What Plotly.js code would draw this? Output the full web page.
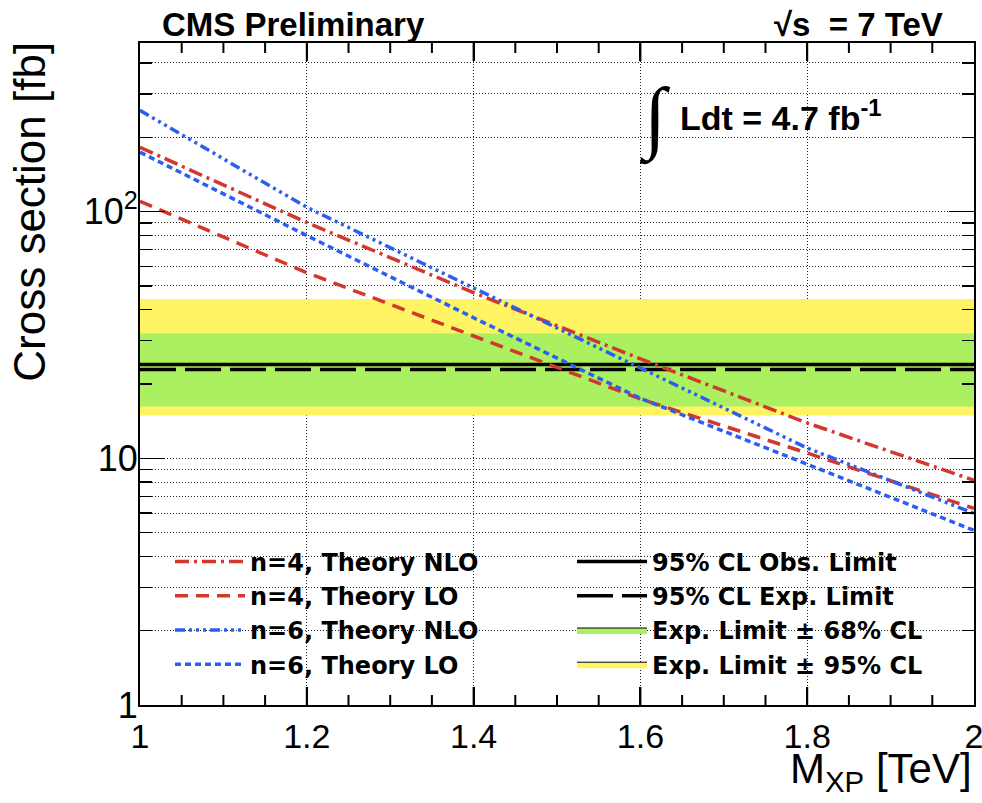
<!DOCTYPE html>
<html>
<head>
<meta charset="utf-8">
<script src="https://cdn.plot.ly/plotly-3.0.1.min.js"></script>
<style>html,body{margin:0;padding:0;background:#fff;}#chart{width:982px;height:803px;}</style>
</head>
<body>
<div id="chart"></div>
<script>
// ---- data ----
const massTeV = [1.0, 1.2, 1.4, 1.6, 1.8, 2.0];
const n4NLO = [182, 90.2, 46.9, 25.3, 13.9, 8.14];
const n4LO  = [110, 56.5, 31.3, 17.4, 10.5, 6.26];
const n6NLO = [257, 104, 49.0, 23.2, 11.0, 5.98];
const n6LO  = [174, 79.9, 37.1, 17.5, 9.46, 5.10];
const limitMass = [1.0, 2.0];
const obsLimit = 24.0;
const expLimit = 22.9;
const band68 = [16.2, 32.0];   // [low, high]
const band95 = [14.9, 44.2];   // [low, high]
const xTickVals = [1, 1.2, 1.4, 1.6, 1.8, 2];
const xTickText = ["1", "1.2", "1.4", "1.6", "1.8", "2"];
const xMinorVals = [1.05,1.1,1.15,1.25,1.3,1.35,1.45,1.5,1.55,1.65,1.7,1.75,1.85,1.9,1.95];
const yTickVals = [1, 10, 100];
const yTickText = ["1", "10", "10<sup>2</sup>"];
const yMinorVals = [2,3,4,5,6,7,8,9,20,30,40,50,60,70,80,90,200,300,400];

const RED = '#d2382c';
const BLUE = '#2c5ef2';
const GREEN = '#aaf060';
const YELLOW = '#fff564';
const FONT = 'Liberation Sans, Arial, Helvetica, sans-serif';
const PLOT_H = 662;

function bandPoly(b){
  return {
    x: [limitMass[0], limitMass[1], limitMass[1], limitMass[0], limitMass[0]],
    y: [b[0], b[0], b[1], b[1], b[0]]
  };
}
const p95 = bandPoly(band95), p68 = bandPoly(band68);

const traces = [
  {x: p95.x, y: p95.y, type:'scatter', mode:'lines', fill:'toself', fillcolor: YELLOW,
   line:{width:0, color: YELLOW}, showlegend:false, hoverinfo:'skip'},
  {x: p68.x, y: p68.y, type:'scatter', mode:'lines', fill:'toself', fillcolor: GREEN,
   line:{width:0, color: GREEN}, showlegend:false, hoverinfo:'skip'},
  {x: limitMass, y: limitMass.map(()=>obsLimit), type:'scatter', mode:'lines',
   name:'95% CL Obs. Limit', line:{color:'#000', width:3.5}, legend:'legend2', legendrank:1},
  {x: limitMass, y: limitMass.map(()=>expLimit), type:'scatter', mode:'lines',
   name:'95% CL Exp. Limit', line:{color:'#000', width:3.5, dash:'36px,9px'}, legend:'legend2', legendrank:2},
  {x:[null], y:[null], type:'scatter', mode:'lines', fill:'toself', fillcolor: GREEN,
   name:'Exp. Limit ± 68% CL', line:{color:'#000', width:1}, legend:'legend2', legendrank:3},
  {x:[null], y:[null], type:'scatter', mode:'lines', fill:'toself', fillcolor: YELLOW,
   name:'Exp. Limit ± 95% CL', line:{color:'#000', width:1}, legend:'legend2', legendrank:4},
  {x: massTeV, y: n4NLO, type:'scatter', mode:'lines', name:'n=4, Theory NLO',
   line:{color: RED, width:3.5, dash:'14px,5px,3px,5px'}, legend:'legend', legendrank:1},
  {x: massTeV, y: n4LO, type:'scatter', mode:'lines', name:'n=4, Theory LO',
   line:{color: RED, width:3.5, dash:'13px,8px'}, legend:'legend', legendrank:2},
  {x: massTeV, y: n6NLO, type:'scatter', mode:'lines', name:'n=6, Theory NLO',
   line:{color: BLUE, width:3.5, dash:'10px,4px,3px,4px,3px,4px,3px,4px'}, legend:'legend', legendrank:3},
  {x: massTeV, y: n6LO, type:'scatter', mode:'lines', name:'n=6, Theory LO',
   line:{color: BLUE, width:3.5, dash:'6px,4px'}, legend:'legend', legendrank:4}
];

// inside tick marks for the x axis (bottom and top), placed at the axis tick values
function tickShapes(vals, lenPx){
  const f = lenPx / PLOT_H, out = [];
  vals.forEach(v => {
    out.push({type:'line', xref:'x', yref:'paper', x0:v, x1:v, y0:0, y1:f, line:{color:'#000', width:2}, layer:'above'});
    out.push({type:'line', xref:'x', yref:'paper', x0:v, x1:v, y0:1, y1:1-f, line:{color:'#000', width:2}, layer:'above'});
  });
  return out;
}
const shapes = tickShapes(xTickVals.slice(1, -1), 18).concat(tickShapes(xMinorVals, 10));

const legendFont = {family: 'DejaVu Sans, ' + FONT, size: 24, color:'#000', weight:'bold'};

const layout = {
  width: 982, height: 803,
  margin: {l:140, r:8, t:43, b:98},
  paper_bgcolor:'#fff', plot_bgcolor:'#fff',
  showlegend: true,
  legend: {x: 0.036, y: 0.25, xanchor:'left', yanchor:'top', bgcolor:'rgba(0,0,0,0)',
           font: legendFont, itemwidth: 70, tracegroupgap: 0, traceorder:'normal'},
  legend2: {x: 0.518, y: 0.25, xanchor:'left', yanchor:'top', bgcolor:'rgba(0,0,0,0)',
           font: legendFont, itemwidth: 70, tracegroupgap: 0, traceorder:'normal'},
  xaxis: {
    range: [1, 2], showline: true, linecolor:'#000', linewidth: 2, mirror:'allticks',
    ticks:'inside', ticklen: 18, tickwidth: 2, tickcolor:'#000',
    tickmode:'array', tickvals: xTickVals, ticktext: xTickText, ticklabeloverflow:'allow',
    tickfont: {family: FONT, size: 34, color:'#000'},
    showgrid: true, gridcolor:'#222', gridwidth: 1, griddash:'1px,2px',
    zeroline: false
  },
  yaxis: {
    type:'log', range: [0, 2.683], showline: true, linecolor:'#000', linewidth: 2, mirror:'allticks',
    ticks:'inside', ticklen: 25, tickwidth: 1.5, tickcolor:'#000',
    tickmode:'array', tickvals: yTickVals, ticktext: yTickText,
    tickfont: {family: FONT, size: 36, color:'#000'}, ticklabelstandoff: -7,
    showgrid: true, gridcolor:'#222', gridwidth: 1, griddash:'1px,2px',
    minor: {tickmode:'array', tickvals: yMinorVals, ticks:'inside', ticklen: 12, tickwidth: 1.5, tickcolor:'#000',
            showgrid: true, gridcolor:'#222', gridwidth: 1, griddash:'1px,2px'},
    zeroline: false
  },
  shapes: shapes,
  annotations: [
    {text:'CMS Preliminary', xref:'paper', yref:'paper', x: 0.024, y: 1.0287, xanchor:'left', yanchor:'middle',
     showarrow:false, font:{family: FONT, size: 33, color:'#000', weight:'bold'}},
    {text:'√s  = 7 TeV', xref:'paper', yref:'paper', x: 0.965, y: 1.0287, xanchor:'right', yanchor:'middle',
     showarrow:false, font:{family: FONT, size: 33, color:'#000', weight:'bold'}},
    {text:'∫', xref:'paper', yref:'paper', x: 0.618, y: 0.886, xanchor:'center', yanchor:'middle',
     showarrow:false, font:{family: 'Liberation Serif, DejaVu Serif, serif', size: 80, color:'#000', weight:'bold'}},
    {text:'Ldt = 4.7 fb<sup>-1</sup>', xref:'paper', yref:'paper', x: 0.645, y: 0.891, xanchor:'left', yanchor:'middle',
     showarrow:false, font:{family: FONT, size: 34, color:'#000', weight:'bold'}},
    {text:'Cross section [fb]', xref:'paper', yref:'paper', x: -0.132, y: 0.745, xanchor:'center', yanchor:'middle',
     textangle: -90, showarrow:false, font:{family: FONT, size: 44, color:'#000'}},
    {text:'M<sub>XP</sub> [TeV]', xref:'paper', yref:'paper', x: 1.0, y: -0.101, xanchor:'right', yanchor:'middle',
     showarrow:false, font:{family: FONT, size: 42, color:'#000'}}
  ]
};

Plotly.newPlot('chart', traces, layout, {displayModeBar:false, staticPlot:true});
</script>
</body>
</html>
